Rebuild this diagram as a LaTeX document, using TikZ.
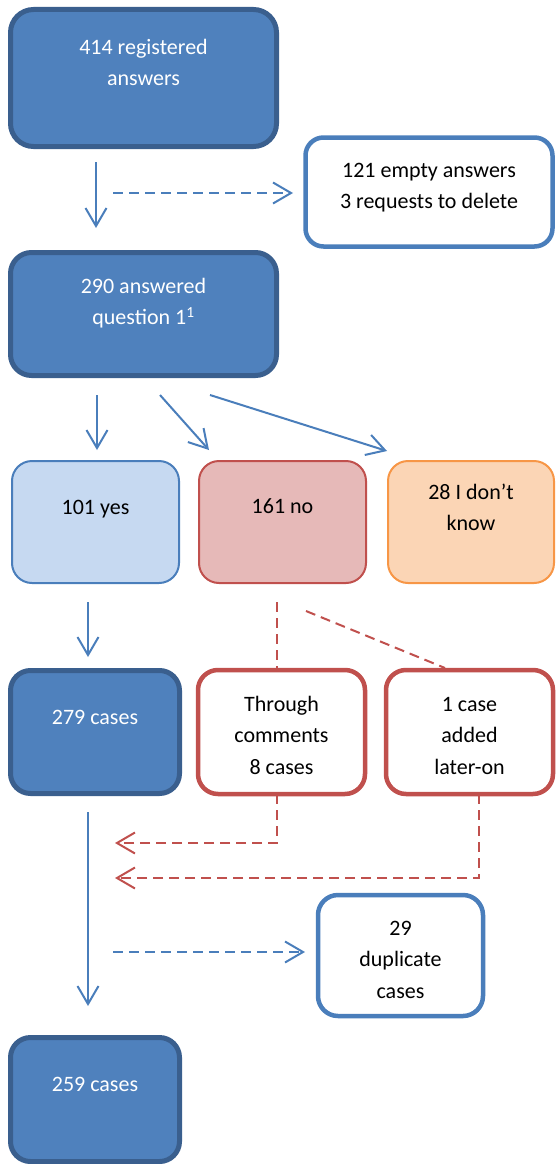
\documentclass[tikz,border=0pt]{standalone}
\usepackage{fontspec}
\setmainfont{Carlito}
\usetikzlibrary{arrows.meta}
\definecolor{dkfill}{HTML}{4F81BD}
\definecolor{dkborder}{HTML}{3A5F8E}
\definecolor{arrblue}{HTML}{4A7EBB}
\definecolor{yesfill}{HTML}{C6D9F1}
\definecolor{nofill}{HTML}{E6B9B8}
\definecolor{redline}{HTML}{C0504D}
\definecolor{dkfillo}{HTML}{FBD5B5}
\definecolor{orangeline}{HTML}{F79646}
\newcommand\bxt[4]{\parbox[c][#2][t]{#1}{\centering\vspace*{#3}\strut#4\par}}
\tikzset{
  box/.style={inner sep=0pt, outer sep=0pt, font=\fontsize{22}{31.5}\selectfont},
  darkbox/.style={box, fill=dkfill, draw=dkborder, line width=5pt, text=white, rounded corners=#1},
  whitebox/.style={box, fill=white, draw=arrblue, line width=4.5pt, text=black, rounded corners=#1},
  redbox/.style={box, fill=white, draw=redline, line width=4.5pt, text=black, rounded corners=20pt},
  rowbox/.style={box, line width=2pt, text=black, rounded corners=20pt},
  arr/.style={draw=arrblue, line width=2pt, -{Straight Barb[length=18pt,width=21pt]}},
  blued/.style={arr, dash pattern=on 10pt off 6pt},
  redd/.style={draw=redline, line width=2pt, dash pattern=on 10pt off 6pt},
  redarr/.style={redd, -{Straight Barb[length=18pt,width=21pt]}},
}
\begin{document}
\begin{tikzpicture}[x=1pt,y=-1pt]
\useasboundingbox (0,0) rectangle (555,1164);

% boxes
\node[darkbox=23pt] (b1) at (143.5,78) {\bxt{266pt}{137pt}{22.5pt}{414 registered\\answers}};
\node[whitebox=18pt] (emp) at (429,192) {\bxt{247pt}{109pt}{17.5pt}{121 empty answers\\3 requests to delete}};
\node[darkbox=21pt] (b2) at (143.5,314) {\bxt{266pt}{123pt}{18.5pt}{290 answered\\question 1\textsuperscript{1}}};

\node[rowbox, fill=yesfill, draw=arrblue] (yes) at (95.5,522) {\bxt{167pt}{122pt}{31pt}{101 yes}};
\node[rowbox, fill=nofill, draw=redline] (no) at (282.5,522) {\bxt{167pt}{122pt}{30pt}{161 no}};
\node[rowbox, fill=dkfillo, draw=orangeline] (dk) at (471,522) {\bxt{166pt}{122pt}{16pt}{28 I don’t\\know}};

\node[darkbox=20pt] (c279) at (95,732) {\bxt{169pt}{123pt}{31.5pt}{279 cases}};
\node[redbox] (thr) at (281.5,732) {\bxt{167pt}{124pt}{19pt}{Through\\comments\\8 cases}};
\node[redbox] (one) at (469.5,732) {\bxt{167pt}{124pt}{19pt}{1 case\\added\\later-on}};

\node[whitebox=20pt] (dup) at (400.5,955.5) {\bxt{165pt}{121pt}{18pt}{29\\duplicate\\cases}};
\node[darkbox=20pt] (c259) at (95,1099.5) {\bxt{169pt}{124pt}{31.5pt}{259 cases}};

% arrow end points
\coordinate (a1s) at (96,162);  \coordinate (a1e) at (96,228);
\coordinate (d1s) at (113,193); \coordinate (d1e) at (293,193);
\coordinate (a2s) at (97,395);  \coordinate (a2e) at (97,450);
\coordinate (a3s) at (160,395); \coordinate (a3e) at (209,450);
\coordinate (a4s) at (210,395); \coordinate (a4e) at (387,451);
\coordinate (a5s) at (88,602);  \coordinate (a5e) at (88,657);
\coordinate (a6s) at (88,812);  \coordinate (a6e) at (88,1006);
\coordinate (d2s) at (113,952); \coordinate (d2e) at (305,952);
\coordinate (r1s) at (277,602); \coordinate (r1e) at (115,843);
\coordinate (r2s) at (306,611); \coordinate (r2e) at (445,668);
\coordinate (r3s) at (479,794); \coordinate (r3e) at (115,878);

% blue arrows
\draw[arr] (a1s) -- (a1e);
\draw[blued] (d1s) -- (d1e);
\draw[arr] (a2s) -- (a2e);
\draw[arr] (a3s) -- (a3e);
\draw[arr] (a4s) -- (a4e);
\draw[arr] (a5s) -- (a5e);
\draw[arr] (a6s) -- (a6e);
\draw[blued] (d2s) -- (d2e);

% red dashed
\draw[redd] (r1s) -- (r1s |- thr.north);
\draw[redarr] (r1s |- thr.south) |- (r1e);
\draw[redd] (r2s) -- (r2e);
\draw[redarr] (r3s) |- (r3e);
\end{tikzpicture}
\end{document}
